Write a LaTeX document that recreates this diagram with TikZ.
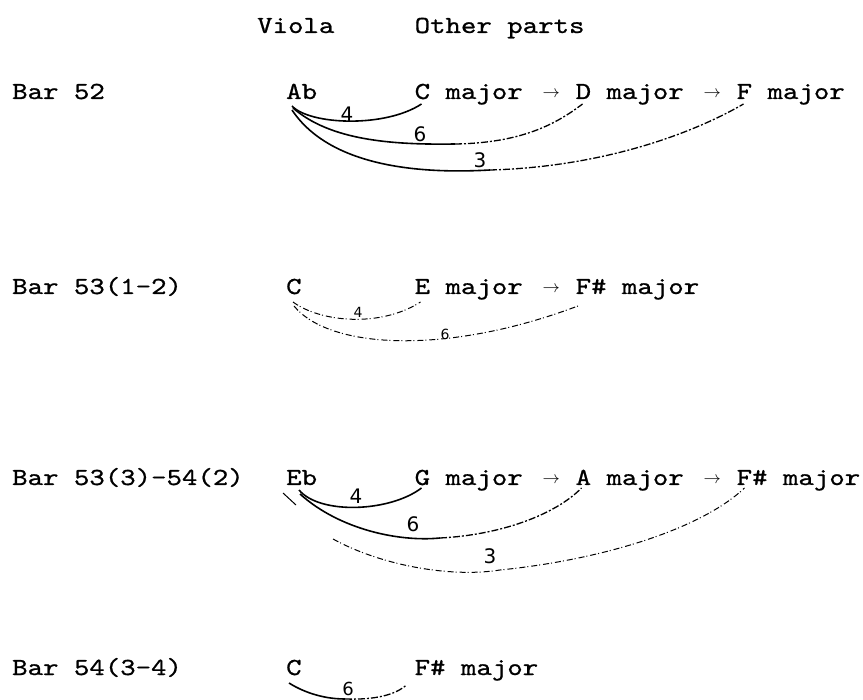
\documentclass[tikz,border=0pt]{standalone}
\usepackage{fontspec}
\newfontfamily\dotfont{lmmono10-regular.otf}[FakeStretch=1.2,FakeBold=0.8]
\newfontfamily\handfont{DejaVu Sans}
\usepackage{tikz}

\begin{document}
\begin{tikzpicture}[
  x=1pt, y=-1pt,
  t/.style={anchor=base west, inner sep=0pt, font=\fontsize{24.5}{28}\selectfont\dotfont},
  to/.style={anchor=base, inner sep=0pt, font=\fontsize{18}{20}\selectfont},
  n/.style={inner sep=0pt, font=\fontsize{20}{22}\selectfont\handfont},
  arc/.style={line width=1.6pt},
  arcd/.style={line width=1.3pt, dash pattern=on 7pt off 2pt on 2pt off 2pt},
  arcf/.style={line width=1pt, dash pattern=on 6pt off 2pt on 1pt off 3pt}
]
\useasboundingbox (0,0) rectangle (863,700);
% headings
\node[t] (hv) at (257,33) {Viola};
\node[t] (ho) at (414.5,33) {Other parts};
% bar 52
\node[t] (b52) at (12,99) {Bar 52};
\node[t] (v52) at (286,99) {Ab};
\node[t] (c52) at (414.5,99) {C major};
\node[to] (r52a) at (551.3,98) {$\rightarrow$};
\node[t] (d52) at (575.5,99) {D major};
\node[to] (r52b) at (712.3,98) {$\rightarrow$};
\node[t] (f52) at (736.5,99) {F major};
% bar 53(1-2)
\node[t] (b53) at (12,294) {Bar 53(1-2)};
\node[t] (v53) at (286,294) {C};
\node[t] (e53) at (414.5,294) {E major};
\node[to] (r53) at (551.3,293) {$\rightarrow$};
\node[t] (fs53) at (575.5,294) {F\# major};
% bar 53(3)-54(2)
\node[t] (b53b) at (12,485) {Bar 53(3)-54(2)};
\node[t] (v53b) at (286,485) {Eb};
\node[t] (g53b) at (414.5,485) {G major};
\node[to] (r53ba) at (551.3,484) {$\rightarrow$};
\node[t] (a53b) at (575.5,485) {A major};
\node[to] (r53bb) at (712.3,484) {$\rightarrow$};
\node[t] (fs53b) at (736.5,485) {F\# major};
% bar 54(3-4)
\node[t] (b54) at (12,675) {Bar 54(3-4)};
\node[t] (v54) at (286,675) {C};
\node[t] (fs54) at (414.5,675) {F\# major};

% intervals, bar 52
\coordinate (m52b) at (455,144);
\coordinate (m52c) at (490,170);
\draw[arc] ([shift={(6,7)}]v52.base west) .. controls (310,125) and (385,128) .. ([shift={(7,5)}]c52.base west);
\draw[arc] ([shift={(7,9)}]v52.base west) .. controls (330,140) and (390,145) .. (m52b);
\draw[arcd] (m52b) .. controls (520,143) and (555,125) .. ([shift={(7,5)}]d52.base west);
\draw[arc] ([shift={(6,11)}]v52.base west) .. controls (330,167) and (420,174) .. (m52c);
\draw[arcd] (m52c) .. controls (600,167) and (690,135) .. ([shift={(7,5)}]f52.base west);
\node[n] (l52a) at (347,114) {4};
\node[n] (l52b) at (420,134) {6};
\node[n] (l52c) at (480,160) {3};

% intervals, bar 53(1-2)
\draw[arcf] ([shift={(7,8)}]v53.base west) .. controls (320,322) and (380,328) .. ([shift={(6,8)}]e53.base west);
\draw[arcf] ([shift={(8,12)}]v53.base west) .. controls (330,350) and (450,355) .. ([shift={(5,11)}]fs53.base west);
\node[n, font=\fontsize{14}{16}\selectfont\handfont] (l53a) at (358,312) {4};
\node[n, font=\fontsize{14}{16}\selectfont\handfont] (l53b) at (445,334) {6};

% intervals, bar 53(3)-54(2)
\coordinate (m53b) at (440,538);
\coordinate (s53b) at (296,505);
\coordinate (m53c) at (333,539);
\draw[arc] ([shift={(13,5)}]v53b.base west) .. controls (320,515) and (390,512) .. ([shift={(7,3)}]g53b.base west);
\draw[arc] ([shift={(14,9)}]v53b.base west) .. controls (340,530) and (400,542) .. (m53b);
\draw[arcd] (m53b) .. controls (500,535) and (555,515) .. ([shift={(6,3)}]a53b.base west);
\draw[line width=1pt] ([shift={(-3,8)}]v53b.base west) -- (s53b);
\draw[arcf] (m53c) .. controls (380,565) and (450,578) .. (500,570) .. controls (600,560) and (700,530) .. ([shift={(8,3)}]fs53b.base west);
\node[n] (l53ba) at (356,496) {4};
\node[n] (l53bb) at (413,524) {6};
\node[n] (l53bc) at (490,556) {3};

% interval, bar 54(3-4)
\coordinate (m54) at (345,699);
\draw[arc] ([shift={(3,8)}]v54.base west) .. controls (300,690) and (320,699) .. (m54);
\draw[arcd] (m54) .. controls (375,700) and (395,695) .. ([shift={(-8,10)}]fs54.base west);
\node[n, font=\fontsize{18}{20}\selectfont\handfont] (l54) at (348,689) {6};
\end{tikzpicture}
\end{document}
